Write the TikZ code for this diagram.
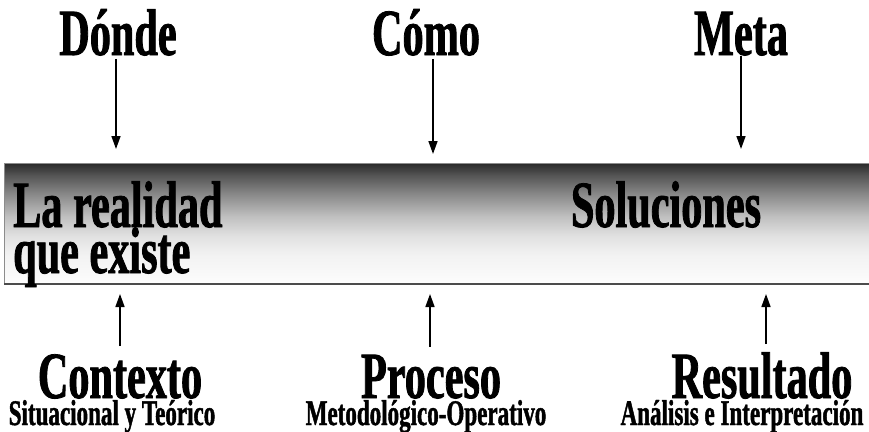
\documentclass[tikz,border=0pt]{standalone}
\usepackage{fontspec}
\setmainfont{Liberation Serif}[BoldFeatures={FakeStretch=0.64,FakeBold=1.2}]
\usetikzlibrary{arrows.meta}
\pgfdeclareverticalshading{bandshade}{100bp}{%
  color(0bp)=(white);
  color(25bp)=(white);
  color(28bp)=(black!2);
  color(37bp)=(black!5);
  color(45bp)=(black!12);
  color(53bp)=(black!25);
  color(62bp)=(black!46);
  color(70bp)=(black!67);
  color(75bp)=(black!84);
  color(100bp)=(black!84)}
\tikzset{
  big/.style={font=\bfseries\fontsize{66}{66}\selectfont, inner sep=0pt, anchor=base},
  small/.style={font=\bfseries\fontsize{36}{36}\selectfont, inner sep=0pt, anchor=base},
  arr/.style={line width=1.6pt, -{Triangle[width=9pt,length=13pt]}},
}
\begin{document}
\begin{tikzpicture}[x=1pt,y=-1pt]
\useasboundingbox (0,0) rectangle (869,431);
\shade[shading=bandshade] (4,163) rectangle (871,284);
\draw[black!45, line width=0.8pt] (871,163) -- (4,163) -- (4,284);
\draw[black!70, line width=1.6pt] (4,284) -- (871,284);
% top labels
\node[big] (donde) at (118,55) {Dónde};
\node[big] (como) at (426,55) {Cómo};
\node[big] (meta) at (741,55) {Meta};
\coordinate (dondeEnd) at (116,149);
\coordinate (comoEnd) at (433,154);
\coordinate (metaEnd) at (741,149);
\draw[arr] (donde.south -| dondeEnd) ++(0,3) -- (dondeEnd);
\draw[arr] (como.south -| comoEnd) ++(0,3) -- (comoEnd);
\draw[arr] (meta.south -| metaEnd) ++(0,0) -- (metaEnd);
% band texts
\node[big, anchor=base west] (real1) at (13,227) {La realidad};
\node[big, anchor=base west] (real2) at (13,273) {que existe};
\node[big] (sol) at (666,227) {Soluciones};
% bottom labels
\node[big] (ctx) at (120,398) {Contexto};
\node[small] (ctxs) at (112,425) {Situacional y Teórico};
\node[big] (proc) at (431,398) {Proceso};
\node[small] (procs) at (426,425) {Metodológico-Operativo};
\node[big] (res) at (762,398) {Resultado};
\node[small] (ress) at (742,425) {Análisis e Interpretación};
\coordinate (ctxEnd) at (120,294);
\coordinate (procEnd) at (430,294);
\coordinate (resEnd) at (766,294);
\draw[arr] (ctx.north -| ctxEnd) ++(0,-8) -- (ctxEnd);
\draw[arr] (proc.north -| procEnd) ++(0,-8) -- (procEnd);
\draw[arr] (res.north -| resEnd) ++(0,-8) -- (resEnd);
\end{tikzpicture}
\end{document}
